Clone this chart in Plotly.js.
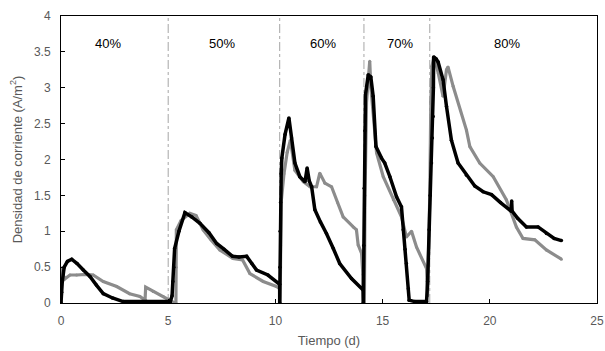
<!DOCTYPE html>
<html><head><meta charset="utf-8">
<script src="https://cdn.plot.ly/plotly-3.0.1.min.js"></script>
<style>html,body{margin:0;padding:0;background:#fff}#c{width:605px;height:351px}</style>
</head><body><div id="c"></div>
<script>
const blackT = [0,0.03,0.06,0.15,0.3,0.5,0.75,1.04,1.35,1.65,1.97,2.4,2.9,4.0,5.1,5.18,5.22,5.26,5.3,5.5,5.78,6.1,6.48,6.9,7.26,7.6,8.0,8.3,8.66,8.9,9.12,9.65,10.2,
 10.2,10.21,10.22,10.24,10.27,10.3,10.45,10.63,10.75,10.91,11.14,11.38,11.48,11.58,11.69,11.84,12.1,12.38,12.7,13.0,13.55,14.09,
 14.1,14.12,14.14,14.17,14.2,14.33,14.45,14.56,14.69,14.95,15.1,15.34,15.65,15.88,15.96,16.05,16.11,16.2,16.24,16.5,17.05,
 17.1,17.17,17.22,17.28,17.32,17.36,17.37,17.38,17.5,17.59,17.82,17.98,18.21,18.52,18.91,19.3,19.69,20.08,20.5,20.93,21.0,21.02,21.04,21.3,21.71,22.25,22.64,23.0,23.34];
const blackV = [0,0.15,0.3,0.5,0.58,0.61,0.55,0.46,0.37,0.25,0.13,0.07,0.02,0.02,0.02,0.1,0.3,0.5,0.76,1.0,1.26,1.2,1.11,0.98,0.83,0.75,0.65,0.64,0.65,0.55,0.46,0.39,0.26,
 0,0.5,1.0,1.4,1.8,2.02,2.35,2.58,2.3,1.95,1.76,1.69,1.88,1.7,1.62,1.30,1.13,0.97,0.76,0.55,0.34,0.18,
 0,0.8,1.6,2.4,2.9,3.18,3.15,2.88,2.18,2.02,1.95,1.76,1.48,1.34,1.02,0.75,0.55,0.2,0.04,0.02,0.02,
 0.3,1.02,1.5,1.95,2.3,2.6,3.0,3.43,3.4,3.36,3.11,2.74,2.27,1.95,1.78,1.63,1.55,1.51,1.40,1.30,1.28,1.42,1.28,1.18,1.06,1.06,0.97,0.90,0.87];
const grayT = [0,0.02,0.05,0.15,0.42,0.73,1.2,1.5,1.97,2.6,3.2,3.68,3.92,3.95,4.3,4.77,5.0,5.3,5.36,5.37,5.38,5.6,6.01,6.3,6.63,7.0,7.41,8.02,8.47,8.81,9.43,10.05,10.2,
 10.22,10.24,10.27,10.4,10.55,10.7,10.91,11.3,11.61,11.92,12.07,12.31,12.62,12.9,13.16,13.63,13.78,13.86,14.02,14.08,14.1,
 14.15,14.18,14.25,14.4,14.45,14.72,15.03,15.5,15.88,16.11,16.35,16.58,17.05,17.1,
 17.2,17.25,17.3,17.4,17.6,17.82,17.98,18.05,18.29,18.91,19.07,19.53,20.16,20.77,21.24,21.55,22.1,22.64,23.34];
const grayV = [0,0.25,0.49,0.33,0.39,0.39,0.40,0.39,0.30,0.23,0.13,0.09,0.04,0.22,0.16,0.09,0.04,0.0,0,0.5,1.02,1.15,1.25,1.22,1.02,0.88,0.74,0.62,0.60,0.41,0.30,0.23,0.2,
 0,0.8,1.41,1.8,2.1,2.27,1.85,1.69,1.62,1.62,1.81,1.67,1.62,1.40,1.20,1.06,1.02,0.81,0.69,0.4,0,
 0,1.5,2.8,3.37,3.02,2.09,1.76,1.44,1.20,0.92,1.0,0.78,0.48,0.1,
 1.5,2.8,3.3,3.43,3.2,2.88,3.25,3.29,3.02,2.41,2.18,1.95,1.76,1.44,1.06,0.90,0.88,0.74,0.61];
const phaseBounds = [5.0, 10.2, 14.13, 17.2];
const phaseLabels = ['40%','50%','60%','70%','80%'];
const phaseLabelT = [2.2, 7.5, 12.2, 15.8, 20.8];
const labelY = 3.62;

const traces = [
 {x: grayT, y: grayV, type:'scatter', mode:'lines+markers', line:{color:'#8c8c8c', width:3.2}, marker:{color:'#8c8c8c', size:3}, showlegend:false},
 {x: blackT, y: blackV, type:'scatter', mode:'lines+markers', line:{color:'#000000', width:3.5}, marker:{color:'#000000', size:3.5}, showlegend:false}
];
const shapes = phaseBounds.map(b => ({type:'line', xref:'x', yref:'paper', x0:b, x1:b, y0:0, y1:1, line:{color:'#a6a6a6', width:1, dash:'dashdot'}, layer:'below'}));
const annotations = phaseLabels.map((t,i) => ({x: phaseLabelT[i], y: labelY, xref:'x', yref:'y', text:t, showarrow:false, font:{family:'Liberation Sans, Arial, sans-serif', size:13, color:'#000'}}));
const layout = {
 width:605, height:351,
 margin:{l:61, r:8, t:16, b:48},
 paper_bgcolor:'#fff', plot_bgcolor:'#fff',
 font:{family:'Liberation Sans, Arial, sans-serif', color:'#595959', size:12},
 xaxis:{range:[0,25], dtick:5, tick0:0, showgrid:false, zeroline:false, showline:true, linecolor:'#000', linewidth:1, mirror:true, ticks:'inside', ticklen:4, tickcolor:'#000', ticklabelstandoff:7,
   tickfont:{size:12, color:'#595959'},
   title:{text:'Tiempo (d)', font:{size:13, color:'#595959'}, standoff:8}},
 yaxis:{range:[0,4], dtick:0.5, tick0:0, showgrid:false, zeroline:false, showline:true, linecolor:'#000', linewidth:1, mirror:true, ticks:'inside', ticklen:4, tickcolor:'#000', ticklabelstandoff:7,
   tickfont:{size:12, color:'#595959'},
   title:{text:'Densidad de corriente (A/m<sup>2</sup>)', font:{size:13, color:'#595959'}, standoff:8}},
 shapes: shapes, annotations: annotations, showlegend:false
};
Plotly.newPlot('c', traces, layout, {displayModeBar:false, staticPlot:true});
</script></body></html>
